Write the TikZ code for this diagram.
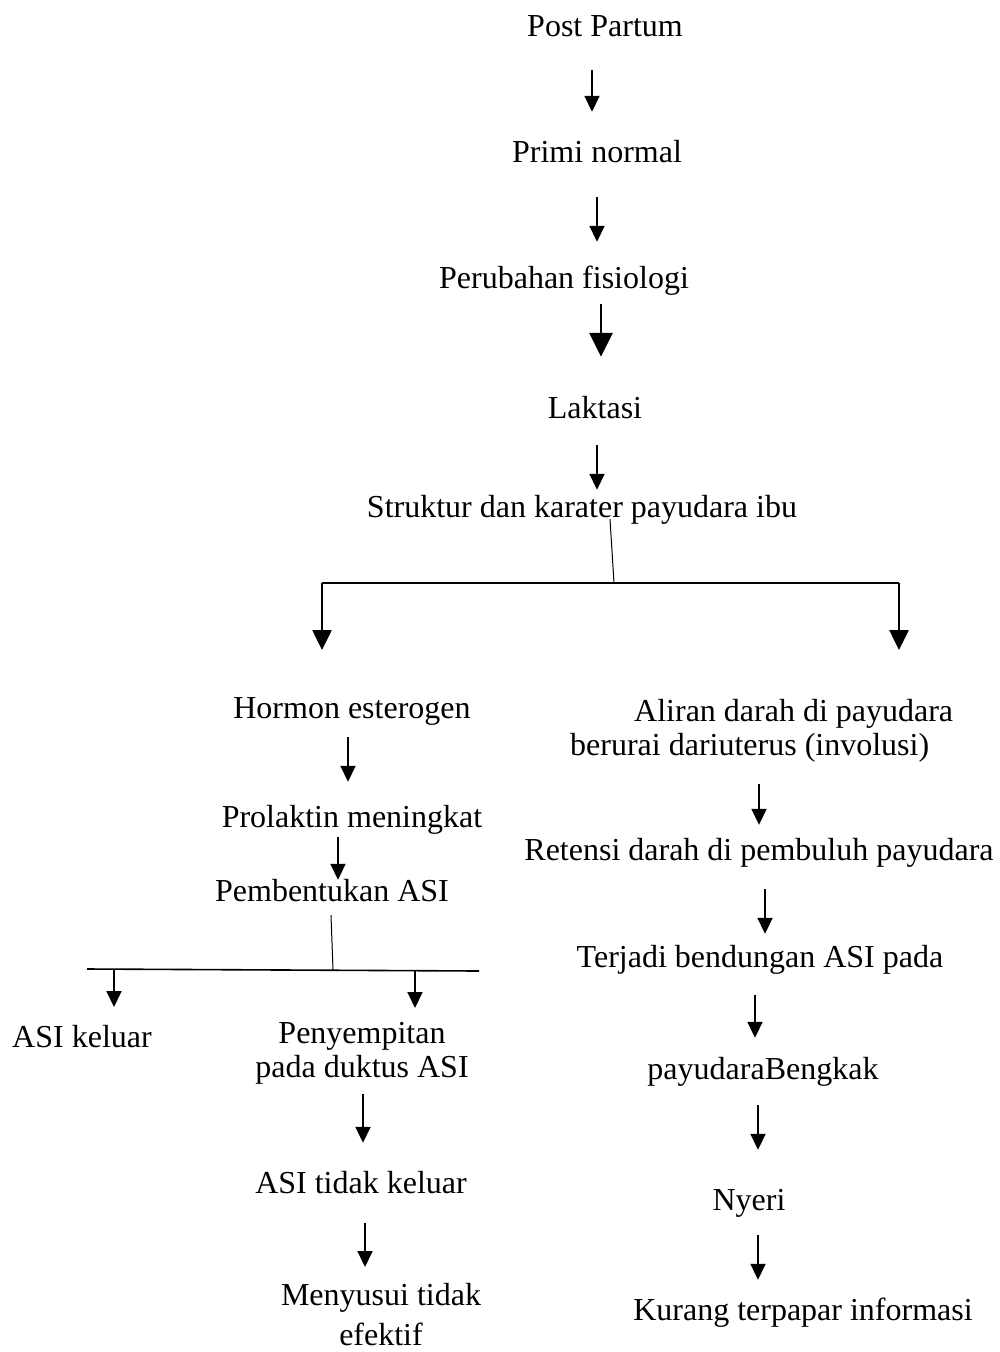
\documentclass[tikz,border=0pt]{standalone}
\usepackage{fontspec}
\setmainfont{Liberation Serif}
\usepackage{tikz}
\usetikzlibrary{arrows.meta, positioning}

\tikzset{
	txt/.style={font=\fontsize{32}{36}\selectfont, inner sep=0pt, anchor=base, text height=24pt, text depth=8pt},
	mtxt/.style={font=\fontsize{32}{36}\selectfont, inner sep=0pt, anchor=north},
	arr/.style={-{Triangle[width=15pt,length=16pt]}, line width=1.8pt},
	bigarr/.style={-{Triangle[width=23pt,length=24pt]}, line width=2.8pt},
	brarr/.style={-{Triangle[width=19pt,length=20pt]}, line width=2.6pt},
	thinln/.style={line width=1pt},
	trunk/.style={line width=2.8pt}
}

\begin{document}
\begin{tikzpicture}[x=1pt, y=-1pt]
		\useasboundingbox (0,0) rectangle (1000,1352);

		% main stem
		\node[txt] (pp) at (605,36) {Post Partum};
		\node[txt] (pn) at (597,162) {Primi normal};
		\node[txt] (pf) at (564,288) {Perubahan fisiologi};
		\node[txt] (lk) at (595,418) {Laktasi};
		\node[txt] (sp) at (582,517) {Struktur dan karater payudara ibu};

		\draw[arr, shorten <=26pt, shorten >=26pt] ([xshift=-13pt]pp.south) -- ([xshift=-5pt]pn.north);
		\draw[arr, shorten <=27pt, shorten >=22pt] ([xshift=0pt]pn.south) -- ([xshift=33pt]pf.north);
		\draw[bigarr, shorten <=8pt, shorten >=37pt] ([xshift=37pt]pf.south) -- ([xshift=6pt]lk.north);
		\draw[arr, shorten <=19pt, shorten >=3pt] ([xshift=2pt]lk.south) -- ([xshift=15pt]sp.north);

		% first split
		\coordinate (sj) at (614,583);
		\coordinate (bl) at (322,583);
		\coordinate (br) at (899,583);
		\draw[thinln] ([xshift=28pt,yshift=6pt]sp.south) -- (sj);
		\draw[trunk] (bl) -- (br);
		\draw[brarr] (bl) -- ++(0,67);
		\draw[brarr] (br) -- ++(0,67);

		% left branch
		\node[txt] (he) at (352,718) {Hormon esterogen};
		\node[txt] (pm) at (352,827) {Prolaktin meningkat};
		\node[txt] (pa) at (332,901) {Pembentukan ASI};

		\draw[arr, shorten <=11pt, shorten >=21pt] ([xshift=-4pt]he.south) -- ([xshift=-4pt]pm.north);
		\draw[arr, shorten <=2pt, shorten >=-3pt] ([xshift=-14pt]pm.south) -- ([xshift=6pt]pa.north);

		\coordinate (pj) at (333,970);
		\coordinate (ll) at (87,969);
		\coordinate (lr) at (479,971);
		\draw[thinln] ([xshift=-1pt,yshift=-6pt]pa.south) -- (pj);
		\draw[line width=1.6pt] (ll) -- (lr);
		\draw[arr] ([xshift=27pt]ll) -- ++(0,38);
		\draw[arr] (415,970) -- ++(0,38);

		\node[txt] (ak) at (82,1047) {ASI keluar};
		\node[mtxt, align=center] (pd) at (362,1022) {Penyempitan\\[-2pt]pada duktus ASI};
		\node[txt] (at) at (361,1193) {ASI tidak keluar};
		\node[mtxt, align=center] (me) at (381,1283) {Menyusui tidak\\[4pt]efektif};

		\draw[arr, shorten <=10pt, shorten >=26pt] ([xshift=1pt]pd.south) -- ([xshift=2pt]at.north);
		\draw[arr, shorten <=22pt, shorten >=16pt] ([xshift=4pt]at.south) -- ([xshift=-16pt]me.north);

		% right branch
		\node[mtxt, anchor=north west, align=left] (ad) at (570,699) {\hspace*{64pt}Aliran darah di payudara\\[-2pt]berurai dariuterus (involusi)};
		\node[txt] (rd) at (759,860) {Retensi darah di pembuluh payudara};
		\node[txt] (tb) at (760,967) {Terjadi bendungan ASI pada};
		\node[txt] (pb) at (763,1079) {payudaraBengkak};
		\node[txt] (ny) at (749,1210) {Nyeri};
		\node[txt] (kt) at (803,1320) {Kurang terpapar informasi};

		\draw[arr, shorten <=22pt, shorten >=11pt] (ad.south -| rd.north) -- (rd.north);
		\draw[arr, shorten <=21pt, shorten >=9pt] ([xshift=6pt]rd.south) -- ([xshift=5pt]tb.north);
		\draw[arr, shorten <=20pt, shorten >=17pt] ([xshift=-5pt]tb.south) -- ([xshift=-8pt]pb.north);
		\draw[arr, shorten <=18pt, shorten >=36pt] ([xshift=-5pt]pb.south) -- ([xshift=9pt]ny.north);
		\draw[arr, shorten <=17pt, shorten >=16pt] ([xshift=9pt]ny.south) -- ([xshift=-45pt]kt.north);
	\end{tikzpicture}
\end{document}
